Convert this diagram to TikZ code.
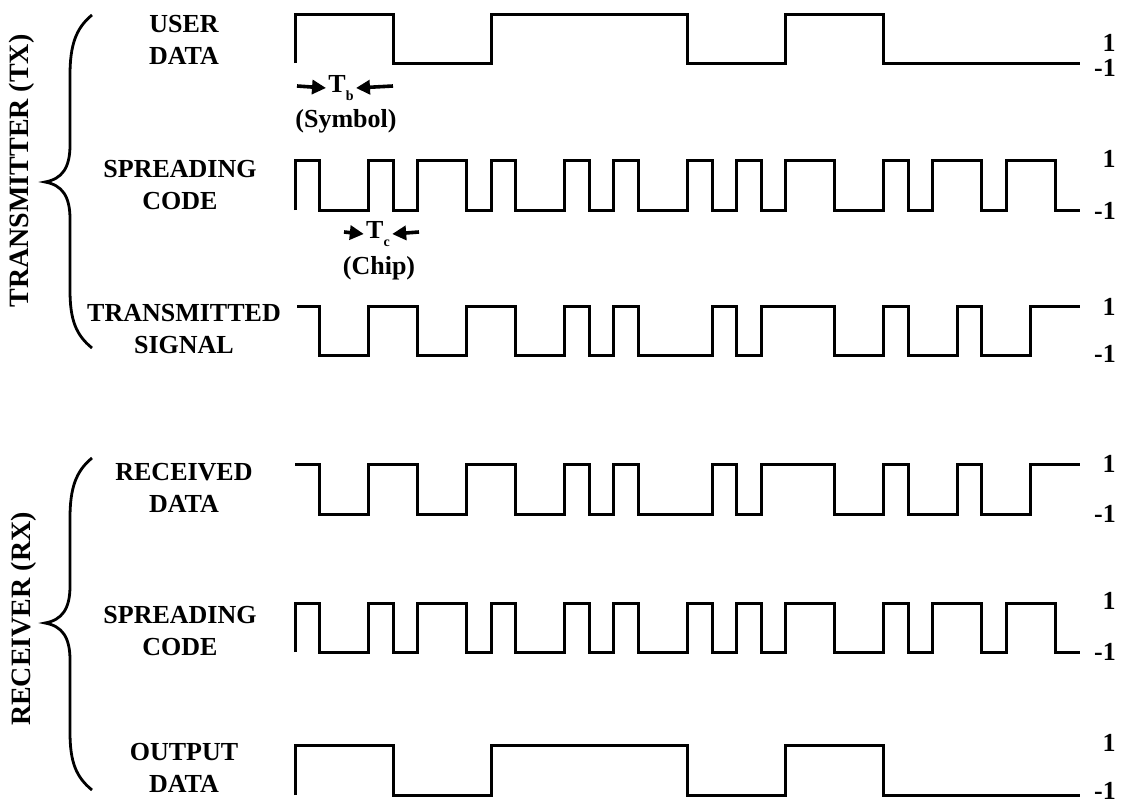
\documentclass[tikz,border=0pt]{standalone}
\usepackage{fontspec}
\setmainfont{Liberation Serif}
\usetikzlibrary{arrows.meta}
\tikzset{
  wave/.style={line width=1.5pt,line join=miter},
  lbl/.style={font=\fontsize{13}{16}\selectfont\bfseries,align=center,inner sep=1pt},
  lvl/.style={font=\fontsize{13}{16}\selectfont\bfseries,inner sep=0pt},
  side/.style={font=\fontsize{14}{16}\selectfont\bfseries,rotate=90,inner sep=0pt},
  brc/.style={line width=1.4pt},
  tarrow/.style={line width=1.8pt,-{Triangle[length=7pt,width=7pt]}}
}

\begin{document}
\begin{tikzpicture}[x=0.5pt,y=-0.5pt]
  \useasboundingbox (0,0) rectangle (1128,803);
  \node[side] (tx) at (22,171) {TRANSMITTER (TX)};
  \node[side] (rx) at (24,619) {RECEIVER (RX)};
  \draw[brc] (92,15) .. controls (76,28) and (70,45) .. (70,75) -- (70,145) .. controls (70,168) and (62,179) .. (45,182) .. controls (62,185) and (70,196) .. (70,219) -- (70,290) .. controls (70,320) and (76,335) .. (92,348);
  \draw[brc] (92,458) .. controls (76,471) and (70,488) .. (70,518) -- (70,586) .. controls (70,609) and (62,620) .. (45,623) .. controls (62,626) and (70,637) .. (70,660) -- (70,732) .. controls (70,762) and (76,777) .. (92,790);
  \node[lbl] (user) at (184,40) {USER\\DATA}; \node[lbl] (txcode) at (180,185) {SPREADING\\CODE}; \node[lbl] (sig) at (184,329) {TRANSMITTED\\SIGNAL};
  \node[lbl] (recv) at (184,488) {RECEIVED\\DATA}; \node[lbl] (rxcode) at (180,631) {SPREADING\\CODE}; \node[lbl] (out) at (184,768) {OUTPUT\\DATA};
  \begin{scope}[shift={(295,0)},x=12.265pt]
    \draw[wave] (0,63) |- (4,14) |- (8,63) |- (16,14) |- (20,63) |- (24,14) |- (32,63);
    \draw[wave] (0,210) |- (1,160) |- (3,210) |- (4,160) |- (5,210) |- (7,160) |- (8,210) |- (9,160) |- (11,210) |- (12,160) |- (13,210) |- (14,160) |- (16,210) |- (17,160) |- (18,210) |- (19,160) |- (20,210) |- (22,160) |- (24,210) |- (25,160) |- (26,210) |- (28,160) |- (29,210) |- (31,160) |- (32,210);
    \draw[wave] (0.1,306) -- (1,306) |- (3,355) |- (5,306) |- (7,355) |- (9,306) |- (11,355) |- (12,306) |- (13,355) |- (14,306) |- (17,355) |- (18,306) |- (19,355) |- (22,306) |- (24,355) |- (25,306) |- (27,355) |- (28,306) |- (30,355) |- (32,306);
    \draw[wave] (0,464) -- (1,464) |- (3,514) |- (5,464) |- (7,514) |- (9,464) |- (11,514) |- (12,464) |- (13,514) |- (14,464) |- (17,514) |- (18,464) |- (19,514) |- (22,464) |- (24,514) |- (25,464) |- (27,514) |- (28,464) |- (30,514) |- (32,464);
    \draw[wave] (0,652) |- (1,603) |- (3,652) |- (4,603) |- (5,652) |- (7,603) |- (8,652) |- (9,603) |- (11,652) |- (12,603) |- (13,652) |- (14,603) |- (16,652) |- (17,603) |- (18,652) |- (19,603) |- (20,652) |- (22,603) |- (24,652) |- (25,603) |- (26,652) |- (28,603) |- (29,652) |- (31,603) |- (32,652);
    \draw[wave] (0,795) |- (4,745) |- (8,795) |- (16,745) |- (20,795) |- (24,745) |- (32,795);
  \end{scope}
  \node[lvl] (u1) at (1109,43) {1}; \node[lvl] (u0) at (1105,68) {-1};
  \node[lvl] (c1) at (1109,159) {1}; \node[lvl] (c0) at (1105,211) {-1};
  \node[lvl] (s1) at (1109,307) {1}; \node[lvl] (s0) at (1105,354) {-1};
  \node[lvl] (r1) at (1109,464) {1}; \node[lvl] (r0) at (1105,514) {-1};
  \node[lvl] (d1) at (1109,601) {1}; \node[lvl] (d0) at (1105,652) {-1};
  \node[lvl] (o1) at (1109,743) {1}; \node[lvl] (o0) at (1105,791) {-1};
  \node[lbl] (tb) at (341,88) {T\raisebox{-0.6ex}{\scriptsize b}};
  \coordinate (tbl) at (297,86); \coordinate (tbr) at (393,86);
  \draw[tarrow] (tbl) -- (tb.west); \draw[tarrow] (tbr) -- (tb.east);
  \node[lbl] (sym) at (346,121) {(Symbol)};
  \node[lbl] (tc) at (378,234) {T\raisebox{-0.6ex}{\scriptsize c}};
  \coordinate (tcl) at (344,232); \coordinate (tcr) at (419,232);
  \draw[tarrow] (tcl) -- (tc.west); \draw[tarrow] (tcr) -- (tc.east);
  \node[lbl] (chip) at (379,268) {(Chip)};
\end{tikzpicture}
\end{document}
